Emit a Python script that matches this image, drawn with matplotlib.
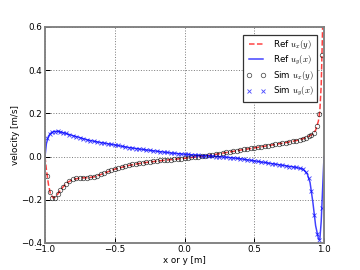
import matplotlib
matplotlib.use("Agg")
import matplotlib.pyplot as plt

# sample positions of the simulation (finer near the walls)
sim_pos = [-0.985, -0.967, -0.95, -0.93, -0.91, -0.89, -0.87, -0.85, -0.825,
           -0.8, -0.775, -0.75, -0.725, -0.7, -0.675, -0.65, -0.625, -0.6,
           -0.575, -0.55, -0.525, -0.5, -0.475, -0.45, -0.425, -0.4, -0.375,
           -0.35, -0.325, -0.3, -0.275, -0.25, -0.225, -0.2, -0.175, -0.15,
           -0.125, -0.1, -0.075, -0.05, -0.025, 0.0, 0.025, 0.05, 0.075, 0.1,
           0.125, 0.15, 0.175, 0.2, 0.225, 0.25, 0.275, 0.3, 0.325, 0.35,
           0.375, 0.4, 0.425, 0.45, 0.475, 0.5, 0.525, 0.55, 0.575, 0.6,
           0.625, 0.65, 0.675, 0.7, 0.725, 0.75, 0.775, 0.8, 0.825, 0.85,
           0.87, 0.89, 0.91, 0.93, 0.95, 0.967, 0.985]

sim_ux = [-0.09, -0.165, -0.19, -0.19, -0.175, -0.155, -0.14, -0.125, -0.112,
          -0.105, -0.1, -0.098, -0.097, -0.097, -0.096, -0.093, -0.088, -0.082,
          -0.075, -0.068, -0.062, -0.057, -0.052, -0.048, -0.044, -0.04, -0.036,
          -0.032, -0.03, -0.028, -0.026, -0.024, -0.022, -0.02, -0.018, -0.017,
          -0.015, -0.014, -0.012, -0.011, -0.009, -0.008, -0.006, -0.004, -0.002, 0.0,
          0.002, 0.004, 0.006, 0.008, 0.011, 0.013, 0.016, 0.019, 0.022, 0.025,
          0.028, 0.03, 0.033, 0.035, 0.038, 0.04, 0.043, 0.046, 0.048, 0.051,
          0.054, 0.057, 0.059, 0.062, 0.064, 0.067, 0.07, 0.074, 0.078, 0.083,
          0.088, 0.094, 0.1, 0.11, 0.14, 0.195, 0.47]

sim_uy = [0.084, 0.103, 0.112, 0.116, 0.117, 0.114, 0.111, 0.107, 0.102,
          0.097, 0.093, 0.088, 0.083, 0.078, 0.074, 0.071, 0.068, 0.065,
          0.062, 0.059, 0.057, 0.054, 0.052, 0.049, 0.046, 0.042, 0.04,
          0.037, 0.035, 0.033, 0.031, 0.029, 0.027, 0.025, 0.023, 0.021,
          0.019, 0.017, 0.015, 0.013, 0.012, 0.011, 0.01, 0.009, 0.008, 0.006,
          0.005, 0.004, 0.003, 0.002, 0.0, -0.001, -0.002, -0.003, -0.005, -0.006,
          -0.008, -0.01, -0.012, -0.014, -0.017, -0.02, -0.022, -0.025, -0.027, -0.03,
          -0.032, -0.035, -0.038, -0.04, -0.043, -0.046, -0.049, -0.05, -0.053, -0.058,
          -0.07, -0.1, -0.16, -0.27, -0.36, -0.386, -0.24]

# reference solution
ref_pos = [-1.0, -0.99, -0.975, -0.96, -0.94, -0.92, -0.9, -0.87, -0.84, -0.8,
           -0.75, -0.7, -0.65, -0.6, -0.5, -0.4, -0.3, -0.2, -0.1, 0.0, 0.1,
           0.2, 0.3, 0.4, 0.5, 0.6, 0.7, 0.8, 0.85, 0.88, 0.9, 0.92, 0.94,
           0.96, 0.97, 0.98, 0.99, 1.0]
ref_ux = [0.0, -0.06, -0.13, -0.175, -0.192, -0.185, -0.165, -0.14, -0.12, -0.106,
          -0.099, -0.098, -0.094, -0.083, -0.058, -0.041, -0.029, -0.021, -0.014,
          -0.008, 0.0, 0.008, 0.019, 0.03, 0.04, 0.051, 0.062, 0.074, 0.083,
          0.091, 0.097, 0.105, 0.122, 0.165, 0.21, 0.33, 0.6, 1.0]
ref_uy = [0.0, 0.06, 0.095, 0.108, 0.115, 0.117, 0.116, 0.111, 0.105, 0.097,
          0.088, 0.078, 0.071, 0.065, 0.054, 0.042, 0.033, 0.025, 0.017, 0.011,
          0.006, 0.002, -0.003, -0.01, -0.02, -0.03, -0.04, -0.05, -0.058,
          -0.08, -0.12, -0.21, -0.32, -0.38, -0.385, -0.3, -0.15, 0.0]

plt.rcParams['font.size'] = 7
plt.rcParams['mathtext.fontset'] = 'cm'
plt.rcParams['xtick.direction'] = 'in'
plt.rcParams['ytick.direction'] = 'in'

fig = plt.figure(figsize=(4, 3), dpi=90)
ax = fig.add_axes([0.125, 0.1, 0.775, 0.8])

ax.plot(ref_pos, ref_ux, 'r--', alpha=0.75, lw=1.2, label='Ref $u_x(y)$')
ax.plot(ref_pos, ref_uy, 'b-', alpha=0.75, lw=1.2, label='Ref $u_y(x)$')
ax.plot(sim_pos, sim_ux, 'o', mfc='none', mec='k', ms=3.6, mew=0.6,
        alpha=0.7, label='Sim $u_x(y)$')
ax.plot(sim_pos, sim_uy, 'x', color='b', ms=3.4, mew=0.7,
        alpha=0.7, label='Sim $u_y(x)$')

ax.set_xlim(-1, 1)
ax.set_ylim(-0.4, 0.6)
ax.set_xticks([-1.0, -0.5, 0.0, 0.5, 1.0])
ax.set_yticks([-0.4, -0.2, 0.0, 0.2, 0.4, 0.6])
ax.grid(True, ls=':', color='gray', lw=0.8)
for s in ax.spines.values():
    s.set_color('gray')
    s.set_linewidth(1.5)
ax.tick_params(length=4, color='k', pad=2)
ax.set_xlabel('x or y [m]', labelpad=1)
ax.set_ylabel('velocity [m/s]', labelpad=1)

leg = ax.legend(loc='upper right', numpoints=2, fancybox=False,
                fontsize=7, borderpad=0.4, labelspacing=0.3,
                handlelength=2.2, framealpha=1,
                bbox_to_anchor=(0.99, 0.985))
leg.get_frame().set_edgecolor('#333333')

fig.savefig('out.png', dpi=90)
